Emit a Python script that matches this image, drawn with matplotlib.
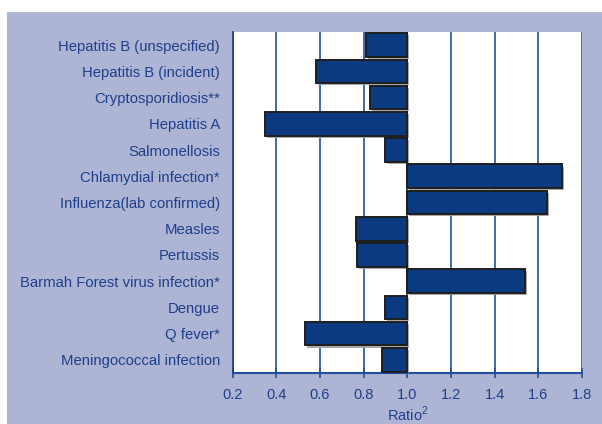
import matplotlib
matplotlib.use("Agg")
import matplotlib.pyplot as plt
import matplotlib.patheffects as pe
from matplotlib.patches import Rectangle

diseases = ["Hepatitis B (unspecified)", "Hepatitis B (incident)", "Cryptosporidiosis**",
            "Hepatitis A", "Salmonellosis", "Chlamydial infection*",
            "Influenza(lab confirmed)", "Measles", "Pertussis",
            "Barmah Forest virus infection*", "Dengue", "Q fever*",
            "Meningococcal infection"]
ratios = [0.81, 0.58, 0.83, 0.35, 0.90, 1.71, 1.64, 0.765, 0.77, 1.54, 0.90, 0.53, 0.885]
xticks = [0.2, 0.4, 0.6, 0.8, 1.0, 1.2, 1.4, 1.6, 1.8]

bg = "#aeb4d4"
txt = "#1f3f8c"
grid = "#1f4f9f"
bar = "#0b3a80"

plt.rcParams["font.family"] = ["Liberation Sans", "DejaVu Sans"]
plt.rcParams["mathtext.fontset"] = "custom"
plt.rcParams["mathtext.rm"] = "Liberation Sans"

fig = plt.figure(figsize=(6.02, 4.24), dpi=100, facecolor="white")
fig.patches.append(Rectangle((7 / 602, 0), 1, 1 - 12 / 424, transform=fig.transFigure,
                             facecolor=bg, edgecolor="none", zorder=-10))
ax = fig.add_axes([232.5 / 602, 1 - 373 / 424, 349.5 / 602, 341 / 424])
ax.set_facecolor("white")

y = list(range(len(diseases)))
widths = [r - 1.0 for r in ratios]
ax.barh(y, widths, left=1.0, height=0.9, color=bar, edgecolor="#1e1e1e", linewidth=1.4,
        zorder=3,
        path_effects=[pe.SimplePatchShadow(offset=(1.5, -1.5), shadow_rgbFace="#a0a0a0", alpha=0.9),
                      pe.Normal()])

ax.set_xlim(0.2, 1.8)
ax.set_ylim(len(diseases) - 0.5, -0.5)
ax.set_xticks(xticks)
ax.set_xticklabels([f"{v:.1f}" for v in xticks])
ax.set_yticks(y)
ax.set_yticklabels(diseases)
for v in xticks:
    ax.axvline(v, color=grid, linewidth=1.2, zorder=1)

ax.tick_params(axis="x", direction="inout", length=7, width=1.2, color=grid,
               labelcolor=txt, labelsize=10.5, pad=7)
ax.tick_params(axis="y", length=0, labelcolor=txt, labelsize=10.7, pad=9)
for s in ["top", "right"]:
    ax.spines[s].set_visible(False)
ax.spines["left"].set_color("#1f3f7f")
ax.spines["left"].set_linewidth(1.2)
ax.spines["bottom"].set_color(grid)
ax.spines["bottom"].set_linewidth(1.5)

ax.set_xlabel("Ratio$^2$", color=txt, fontsize=10.5, labelpad=2)

fig.savefig("out.png", dpi=100, facecolor=fig.get_facecolor())
